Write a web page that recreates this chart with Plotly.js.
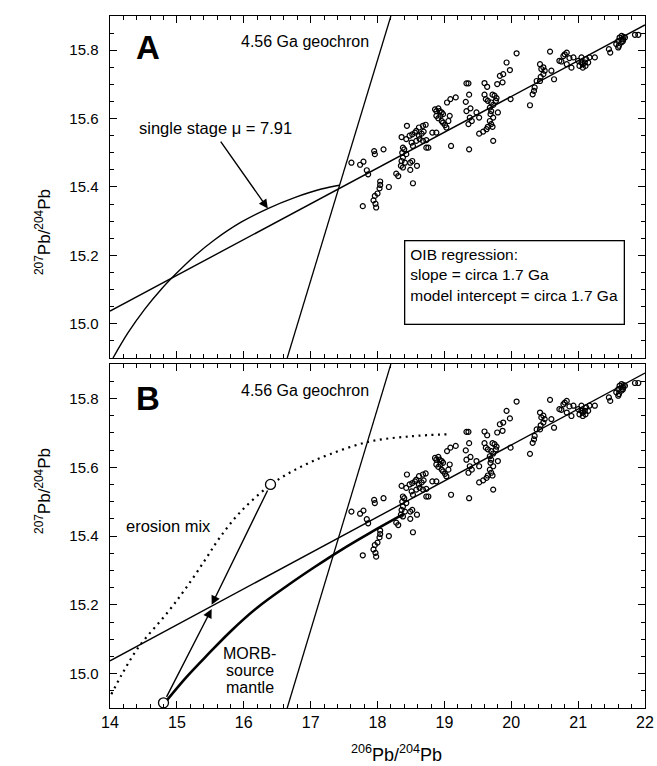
<!DOCTYPE html>
<html>
<head>
<meta charset="utf-8">
<script src="https://cdn.plot.ly/plotly-3.0.1.min.js"></script>
<style>html,body{margin:0;padding:0;background:#fff;}#chart{width:657px;height:766px;}</style>
</head>
<body>
<div id="chart"></div>
<script>
// ---- Data ----
const oibX = [17.61,17.74,17.79,17.78,17.84,17.86,17.95,17.96,18.09,18.04,18.04,18.03,18.00,17.96,17.94,17.97,17.98,18.17,18.28,18.31,18.53,
  18.38,18.37,18.38,18.36,18.35,18.38,18.41,18.43,18.40,18.49,18.52,18.49,18.59,18.44,18.36,18.43,18.48,18.52,18.56,18.58,18.62,18.68,18.72,
  18.62,18.66,18.69,18.51,18.53,18.58,18.63,18.68,18.73,18.73,18.76,18.82,18.88,18.86,18.88,18.91,18.93,18.96,18.88,18.94,18.91,18.96,18.98,
  19.01,19.03,19.08,19.06,18.98,19.04,19.09,19.17,19.10,19.33,19.36,19.32,19.37,19.33,19.39,19.38,19.36,19.41,19.48,19.52,19.37,19.60,19.64,
  19.60,19.62,19.65,19.72,19.75,19.78,19.77,19.70,19.73,19.68,19.70,19.69,19.73,19.68,19.70,19.72,19.80,19.52,19.58,19.63,19.65,19.73,19.79,
  19.83,19.88,19.87,19.93,19.98,19.99,20.08,20.28,20.32,20.34,20.35,20.38,20.43,20.44,20.48,20.45,20.50,20.48,20.43,20.58,20.60,20.64,20.72,
  20.75,20.80,20.83,20.78,20.87,20.83,20.90,20.93,21.00,21.05,21.07,21.10,21.12,21.15,21.02,21.07,21.11,21.05,21.17,21.25,21.46,21.48,21.57,
  21.60,21.62,21.65,21.67,21.70,21.61,21.65,21.67,21.60,21.68,21.85,21.90];
const oibY = [15.471,15.465,15.474,15.344,15.449,15.437,15.505,15.496,15.510,15.416,15.406,15.396,15.381,15.374,15.361,15.351,15.340,15.400,15.439,15.432,15.411,
  15.515,15.500,15.486,15.476,15.462,15.457,15.471,15.496,15.510,15.471,15.476,15.450,15.462,15.579,15.546,15.540,15.550,15.554,15.559,15.564,15.574,15.579,15.582,
  15.550,15.556,15.562,15.530,15.520,15.535,15.540,15.535,15.537,15.515,15.515,15.559,15.559,15.627,15.622,15.630,15.622,15.618,15.608,15.608,15.601,15.593,15.588,
  15.581,15.574,15.608,15.593,15.613,15.647,15.657,15.662,15.520,15.703,15.703,15.649,15.670,15.622,15.630,15.603,15.584,15.593,15.618,15.603,15.510,15.704,15.693,
  15.670,15.657,15.652,15.670,15.667,15.660,15.652,15.647,15.640,15.632,15.622,15.613,15.603,15.593,15.584,15.576,15.618,15.556,15.562,15.569,15.576,15.535,15.701,
  15.725,15.730,15.706,15.764,15.742,15.657,15.791,15.639,15.671,15.681,15.691,15.710,15.710,15.722,15.730,15.745,15.740,15.750,15.759,15.796,15.740,15.715,15.769,
  15.767,15.788,15.793,15.783,15.777,15.759,15.749,15.779,15.769,15.764,15.759,15.764,15.774,15.764,15.754,15.749,15.754,15.779,15.779,15.779,15.803,15.793,15.818,
  15.827,15.837,15.842,15.832,15.837,15.813,15.823,15.827,15.808,15.839,15.845,15.845];

const regressionX = [14, 22];
const regressionY = [15.037, 15.874];
const geochronX = [16.65, 18.20];
const geochronY = [14.9, 15.9];
const singleStageX = [14.045, 14.27, 14.52, 14.77, 14.99, 15.27, 15.56, 15.96, 16.36, 16.76, 17.16, 17.43];
const singleStageY = [14.90, 14.974, 15.043, 15.102, 15.147, 15.199, 15.245, 15.297, 15.337, 15.369, 15.394, 15.405];
const erosionX = [14.02, 14.17, 14.42, 14.87, 15.14, 15.42, 15.64, 15.95, 16.41, 16.84, 17.29, 17.89, 18.5, 19.06];
const erosionY = [14.94, 14.995, 15.075, 15.18, 15.25, 15.33, 15.395, 15.47, 15.55, 15.60, 15.638, 15.675, 15.69, 15.696];
const morbX = [14.84, 15.12, 15.46, 15.81, 16.21, 16.66, 17.06, 17.46, 17.85, 18.4];
const morbY = [14.92, 14.985, 15.055, 15.124, 15.193, 15.257, 15.31, 15.36, 15.405, 15.465];
const endMemberX = [16.4, 14.8];
const endMemberY = [15.55, 14.915];
const mixPoint = [15.52, 15.20];

const FONT = 'Liberation Sans, Arial, Helvetica, sans-serif';
const K = '#000';

function line(x, y, xa, ya, w, dash, shape) {
  return {x: x, y: y, xaxis: xa, yaxis: ya, mode: 'lines', type: 'scatter',
    line: {color: K, width: w, dash: dash || 'solid', shape: shape || 'linear', smoothing: 1},
    showlegend: false};
}
function pts(xa, ya) {
  return {x: oibX, y: oibY, xaxis: xa, yaxis: ya, mode: 'markers', type: 'scatter',
    marker: {symbol: 'circle-open', size: 5, color: K, line: {width: 1.2, color: K}},
    showlegend: false};
}

const traces = [
  line(regressionX, regressionY, 'x', 'y', 1.4),
  line(geochronX, geochronY, 'x', 'y', 1.3),
  line(singleStageX, singleStageY, 'x', 'y', 1.4, 'solid', 'spline'),
  pts('x', 'y'),
  line(regressionX, regressionY, 'x2', 'y2', 1.4),
  line(geochronX, geochronY, 'x2', 'y2', 1.3),
  line(erosionX, erosionY, 'x2', 'y2', 2.2, '2px,4.5px', 'spline'),
  line(morbX, morbY, 'x2', 'y2', 2.6, 'solid', 'spline'),
  pts('x2', 'y2'),
  {x: endMemberX, y: endMemberY, xaxis: 'x2', yaxis: 'y2', mode: 'markers', type: 'scatter',
   marker: {symbol: 'circle', size: 10, color: '#fff', line: {width: 1.3, color: K}},
   showlegend: false}
];

function xax(extra) {
  return Object.assign({
    range: [14, 22], dtick: 1, ticks: 'inside', ticklen: 7, tickwidth: 1.2, tickcolor: K,
    mirror: 'allticks', showline: true, linecolor: K, showgrid: false, zeroline: false,
    minor: {dtick: 0.2, ticks: 'inside', ticklen: 4},
    tickfont: {family: FONT, size: 16, color: K}
  }, extra);
}
function yax(extra) {
  return Object.assign({
    range: [14.9, 15.9], dtick: 0.2, tickformat: '.1f', ticksuffix: '\u2002',
    ticks: 'inside', ticklen: 7, tickwidth: 1.2, tickcolor: K,
    mirror: 'allticks', showline: true, linecolor: K, showgrid: false, zeroline: false,
    minor: {dtick: 0.05, ticks: 'inside', ticklen: 4},
    tickfont: {family: FONT, size: 15, color: K}
  }, extra);
}

function txt(x, y, xr, yr, s, size, extra) {
  return Object.assign({x: x, y: y, xref: xr, yref: yr, text: s, showarrow: false,
    font: {family: FONT, size: size, color: K}}, extra || {});
}
function arrow(x, y, ax, ay, xr, yr, extra) {
  return Object.assign({x: x, y: y, xref: xr, yref: yr, ax: ax, ay: ay, axref: xr, ayref: yr,
    text: '', showarrow: true, arrowhead: 2, arrowsize: 1.3, arrowwidth: 1.4, arrowcolor: K}, extra || {});
}

const yTitle = '<sup>207</sup>Pb/<sup>204</sup>Pb';
const annotations = [
  txt(14.57, 15.809, 'x', 'y', '<b>A</b>', 33),
  txt(14.57, 15.80, 'x2', 'y2', '<b>B</b>', 33),
  txt(16.92, 15.824, 'x', 'y', '4.56 Ga geochron', 16),
  txt(16.92, 15.822, 'x2', 'y2', '4.56 Ga geochron', 16),
  txt(15.58, 15.573, 'x', 'y', 'single stage μ = 7.91', 16.5),
  arrow(16.36, 15.337, 15.64, 15.537, 'x', 'y'),
  txt(20.054, 15.121, 'x', 'y', 'OIB regression:<br>slope = circa 1.7 Ga<br>model intercept = circa 1.7 Ga', 15.5,
      {align: 'left', valign: 'top', width: 208, height: 72, bordercolor: K, borderwidth: 1.3, borderpad: 5, bgcolor: '#fff'}),
  txt(14.88, 15.429, 'x2', 'y2', 'erosion mix', 16.5),
  txt(16.09, 15.058, 'x2', 'y2', 'MORB-', 16),
  txt(16.09, 15.008, 'x2', 'y2', 'source', 16),
  txt(16.09, 14.960, 'x2', 'y2', 'mantle', 16),
  arrow(mixPoint[0], mixPoint[1], endMemberX[0], endMemberY[0], 'x2', 'y2', {startstandoff: 5}),
  arrow(mixPoint[0], mixPoint[1] - 0.012, endMemberX[1], endMemberY[1], 'x2', 'y2', {startstandoff: 5}),
  txt(0.536, -0.066, 'paper', 'paper', '<sup>206</sup>Pb/<sup>204</sup>Pb', 18, {yanchor: 'middle'}),
  txt(-0.1495, 0.7529, 'paper', 'paper', yTitle, 17, {textangle: -90}),
  txt(-0.1495, 0.2486, 'paper', 'paper', yTitle, 17, {textangle: -90})
];

const layout = {
  width: 657, height: 766,
  margin: {l: 110, r: 12, t: 16, b: 58},
  showlegend: false,
  xaxis: xax({anchor: 'y', showticklabels: false}),
  yaxis: yax({domain: [0.5058, 1], anchor: 'x'}),
  xaxis2: xax({anchor: 'y2'}),
  yaxis2: yax({domain: [0, 0.497], anchor: 'x2'}),
  annotations: annotations
};

Plotly.newPlot('chart', traces, layout, {displayModeBar: false});
</script>
</body>
</html>
